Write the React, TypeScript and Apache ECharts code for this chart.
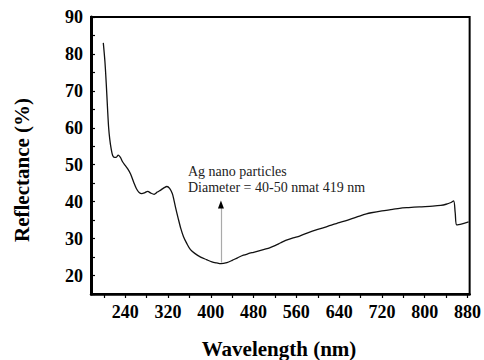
import React, { useEffect, useRef } from "react";
import * as echarts from "echarts";

const wavelengths = [
  199, 202, 204.5, 207, 209, 211, 213.5, 216.5, 220, 223, 227, 231, 235, 240, 245, 250, 256, 261, 266, 271,
  276, 282, 288, 294, 300, 307, 313, 318, 323, 328, 331, 334.5, 339, 344, 349, 355, 362, 370, 381, 392,
  402, 411, 419, 430, 440, 450, 461, 470, 480, 490, 500, 510, 520, 530, 540, 554, 566, 580, 600, 616,
  628, 640, 660, 678, 691, 700, 720, 740, 753, 770, 790, 815, 830, 840, 848, 854, 857, 860, 870, 882,
];
const reflectance = [
  83, 78, 72, 65, 60, 57, 54.5, 52.5, 52, 52, 52.6, 52, 50.8, 49.8, 48.8, 47.5, 45.2, 43.5, 42.5, 42.2,
  42.4, 42.8, 42.3, 42, 42.6, 43.2, 43.8, 44.1, 43.6, 42.2, 40.5, 38.2, 35.5, 32.7, 30.5, 28.7, 27.0, 26.0, 25.0, 24.3,
  23.7, 23.4, 23.2, 23.5, 24.1, 24.8, 25.5, 25.9, 26.3, 26.7, 27.1, 27.5, 28.1, 28.8, 29.5, 30.2, 30.7, 31.5, 32.5, 33.2,
  33.8, 34.3, 35.2, 36.1, 36.7, 37.0, 37.5, 37.9, 38.2, 38.4, 38.6, 38.8, 39.0, 39.3, 39.7, 40.2, 37.0, 33.7, 34.0, 34.5,
];
const xTickValues = [200, 240, 280, 320, 360, 400, 440, 480, 520, 560, 600, 640, 680, 720, 760, 800, 840, 880];
const xLabelValues = [240, 320, 400, 480, 560, 640, 720, 800, 880];
const peakWavelength = 419;
const arrowRange = [23.5, 40.3];
const annotationLines = ["Ag nano particles", "Diameter = 40-50 nmat 419 nm"];
const xTitle = "Wavelength (nm)";
const yTitle = "Reflectance (%)";

const FONT = "Times New Roman, Liberation Serif, serif";

export default function App() {
  const ref = useRef<HTMLDivElement>(null);
  useEffect(() => {
    if (!ref.current) return;
    const chart = echarts.init(ref.current, null, { renderer: "svg" });
    const data = wavelengths.map((w, i) => [w, reflectance[i]]);
    chart.setOption({
      animation: false,
      backgroundColor: "#fff",
      grid: {
        left: 91,
        right: 13,
        top: 17,
        bottom: 66,
        show: true,
        borderColor: "#000",
        borderWidth: 2,
        backgroundColor: "transparent",
      },
      xAxis: {
        type: "value",
        min: 176,
        max: 884,
        splitLine: { show: false },
        axisLine: { lineStyle: { color: "#000", width: 2.5 } },
        axisTick: {
          customValues: xTickValues,
          length: 4,
          lineStyle: { color: "#000", width: 1.2 },
        },
        axisLabel: {
          customValues: xLabelValues,
          margin: 9,
          color: "#000",
          fontFamily: FONT,
          fontWeight: 700,
          fontSize: 18,
        },
      },
      yAxis: {
        type: "value",
        min: 15,
        max: 90,
        interval: 5,
        splitLine: { show: false },
        axisLine: { lineStyle: { color: "#000", width: 3 } },
        axisTick: { inside: true, length: 4, lineStyle: { color: "#000", width: 1.2 } },
        axisLabel: {
          margin: 8,
          color: "#000",
          fontFamily: FONT,
          fontWeight: 700,
          fontSize: 18,
          formatter: (v: number) => (v % 10 === 0 ? String(v) : ""),
        },
      },
      series: [
        {
          type: "line",
          data,
          showSymbol: false,
          smooth: 0.3,
          lineStyle: { color: "#111", width: 1.3 },
          markLine: {
            silent: true,
            symbol: ["none", "none"],
            label: { show: false },
            lineStyle: { color: "#aaa", width: 1.2, type: "solid" },
            data: [[{ coord: [peakWavelength, arrowRange[0]] }, { coord: [peakWavelength, arrowRange[1] - 1.5] }]],
          },
          markPoint: {
            silent: true,
            symbol: "triangle",
            symbolSize: [6, 8],
            itemStyle: { color: "#000" },
            label: { show: false },
            data: [{ coord: [peakWavelength, arrowRange[1] - 1.1] }],
          },
        },
      ],
      graphic: [
        {
          type: "text",
          x: 22,
          y: 170,
          rotation: Math.PI / 2,
          style: {
            text: yTitle,
            fontFamily: FONT,
            fontWeight: 700,
            fontSize: 21,
            fill: "#000",
            align: "center",
            verticalAlign: "middle",
          },
        },
        {
          type: "text",
          x: 279,
          y: 349,
          style: {
            text: xTitle,
            fontFamily: FONT,
            fontWeight: 700,
            fontSize: 21,
            fill: "#000",
            align: "center",
            verticalAlign: "middle",
          },
        },
        {
          type: "text",
          x: 188,
          y: 171,
          style: {
            text: annotationLines[0],
            fontFamily: FONT,
            fontSize: 14,
            fill: "#222",
            align: "left",
            verticalAlign: "middle",
          },
        },
        {
          type: "text",
          x: 188,
          y: 187,
          style: {
            text: annotationLines[1],
            fontFamily: FONT,
            fontSize: 14,
            fill: "#222",
            align: "left",
            verticalAlign: "middle",
          },
        },
      ],
    });
    return () => chart.dispose();
  }, []);
  return <div ref={ref} style={{ position: "fixed", left: 0, top: 0, width: 484, height: 360 }} />;
}
